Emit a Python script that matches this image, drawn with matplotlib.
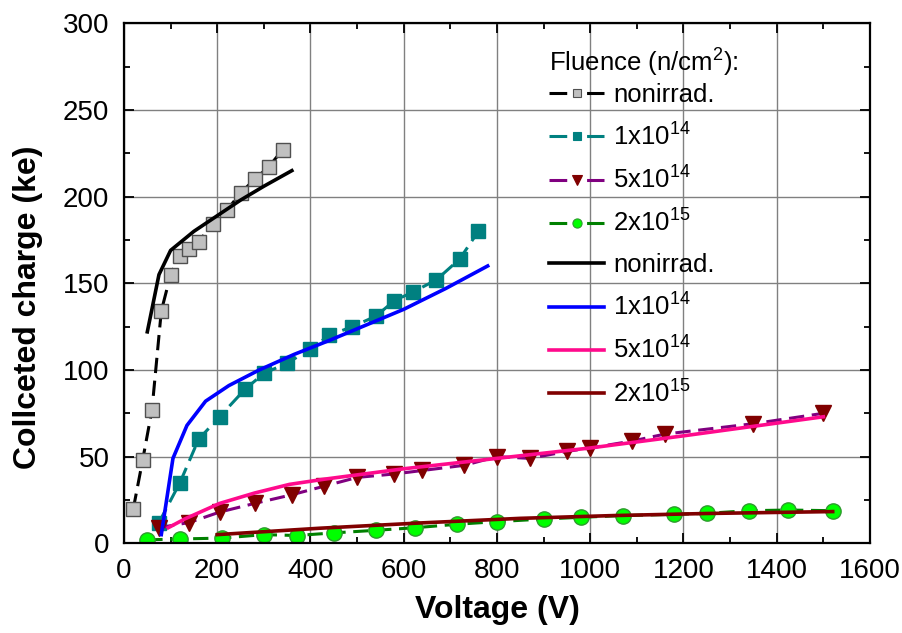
import matplotlib
matplotlib.use("Agg")
import matplotlib.pyplot as plt
from matplotlib.ticker import MultipleLocator
from matplotlib.lines import Line2D

plt.rcParams['font.family'] = ['Liberation Sans', 'DejaVu Sans']
plt.rcParams['mathtext.fontset'] = 'custom'
plt.rcParams['mathtext.rm'] = 'Liberation Sans'
plt.rcParams['mathtext.it'] = 'Liberation Sans:italic'
plt.rcParams['mathtext.bf'] = 'Liberation Sans:bold'
plt.rcParams['mathtext.default'] = 'rm'

# ---- measured data ----
v_nonirr = [20, 40, 60, 80, 100, 120, 140, 160, 190, 220, 250, 280, 310, 340]
q_nonirr = [20, 48, 77, 134, 155, 166, 170, 174, 184, 192, 202, 210, 217, 227]

v_1e14 = [75, 120, 160, 205, 260, 300, 350, 400, 440, 490, 540, 580, 620, 670, 720, 760]
q_1e14 = [12, 35, 60, 73, 89, 98, 104, 112, 120, 125, 131, 140, 145, 152, 164, 180]

v_5e14 = [75, 140, 205, 280, 360, 430, 500, 580, 640, 730, 800, 870, 950, 1000, 1090, 1160, 1350, 1500]
q_5e14 = [9, 12, 18, 23, 28, 33, 38, 40, 42, 45, 50, 49, 53, 55, 59, 63, 69, 75]

v_2e15 = [50, 120, 210, 300, 370, 450, 540, 625, 715, 800, 900, 980, 1070, 1180, 1250, 1340, 1425, 1520]
q_2e15 = [2, 2.5, 3, 5, 4.5, 6, 7.5, 9, 11, 12.5, 14, 15, 16, 16.7, 17.3, 18.8, 19.2, 18.8]

# ---- simulation curves ----
vs_nonirr = [50, 75, 100, 150, 200, 250, 300, 360]
qs_nonirr = [122, 155, 169, 180, 189, 198, 206, 215]

vs_1e14 = [80, 105, 135, 175, 225, 290, 365, 440, 520, 600, 690, 780]
qs_1e14 = [5, 49, 68, 82, 91, 100, 109, 117, 126, 135, 147, 160]

vs_5e14 = [95, 130, 205, 280, 355, 430, 600, 800, 1000, 1200, 1500]
qs_5e14 = [9, 14, 23, 29, 34, 37, 43, 49, 55, 62, 73]

vs_2e15 = [200, 420, 640, 850, 1050, 1250, 1520]
qs_2e15 = [5, 8.7, 11.8, 14.4, 16, 17.2, 18.3]

labels = ['nonirrad.', '1x10$^{14}$', '5x10$^{14}$', '2x10$^{15}$']

fig = plt.figure(figsize=(9.03, 6.33), dpi=100)
ax = fig.add_axes([124/903, 1 - 543.3/633, 746/903, 520/633])

dash = (5, 2.5)
lw_d = 2.2
meas_styles = [
    dict(color='black', marker='s', ms=10.5, mfc='#C0C0C0', mec='#505050'),
    dict(color='#008080', marker='s', ms=10.5, mfc='#008080', mec='#008080'),
    dict(color='#800080', marker='v', ms=11, mfc='#800000', mec='#800000'),
    dict(color='#008000', marker='o', ms=11, mfc='#00FF00', mec='#2E9B2E'),
]
meas = [(v_nonirr, q_nonirr), (v_1e14, q_1e14), (v_5e14, q_5e14), (v_2e15, q_2e15)]
for (v, q), st in zip(meas, meas_styles):
    ax.plot(v, q, lw=lw_d, dashes=dash, mew=1.0, **st)

lw_s = 2.6
sim_colors = ['black', '#0000FF', '#FF0A8C', '#800000']
sims = [(vs_nonirr, qs_nonirr), (vs_1e14, qs_1e14), (vs_5e14, qs_5e14), (vs_2e15, qs_2e15)]
for (v, q), c in zip(sims, sim_colors):
    ax.plot(v, q, color=c, lw=lw_s)

ax.set_xlim(0, 1600)
ax.set_ylim(0, 300)
ax.xaxis.set_major_locator(MultipleLocator(200))
ax.xaxis.set_minor_locator(MultipleLocator(100))
ax.yaxis.set_major_locator(MultipleLocator(50))
ax.yaxis.set_minor_locator(MultipleLocator(25))
ax.tick_params(which='both', direction='in', top=True, right=True, width=1.3, color='black')
ax.tick_params(which='major', length=7, labelsize=20, pad=10.5)
ax.tick_params(which='minor', length=4.5)
ax.grid(True, which='major', color='#808080', lw=1.0)
ax.set_axisbelow(True)
for s in ax.spines.values():
    s.set_linewidth(1.6)

ax.set_xlabel('Voltage (V)', fontsize=23, fontweight='bold')
ax.set_ylabel('Collceted charge (ke)', fontsize=23, fontweight='bold')
ax.xaxis.set_label_coords(0.5, -0.1)
ax.yaxis.set_label_coords(-0.108, 0.453)

# legend proxies: dash - marker - dash
handles = []
for st in meas_styles:
    st2 = dict(st)
    st2['ms'] = st['ms'] * 0.6
    handles.append(Line2D([], [], lw=lw_d, dashes=(5.8, 6.5), mew=0.8, **st2))
for c in sim_colors:
    handles.append(Line2D([], [], color=c, lw=lw_s))

leg = ax.legend(handles, labels + labels, loc='upper left', bbox_to_anchor=(0.549, 0.985),
                frameon=False, fontsize=18.5, title='Fluence (n/cm$^2$):', title_fontsize=18.5,
                alignment='left', handlelength=2.15, handletextpad=0.35,
                labelspacing=0.63, borderpad=0.1)
leg._legend_box.sep = 3

fig.savefig('out.png', dpi=100)
